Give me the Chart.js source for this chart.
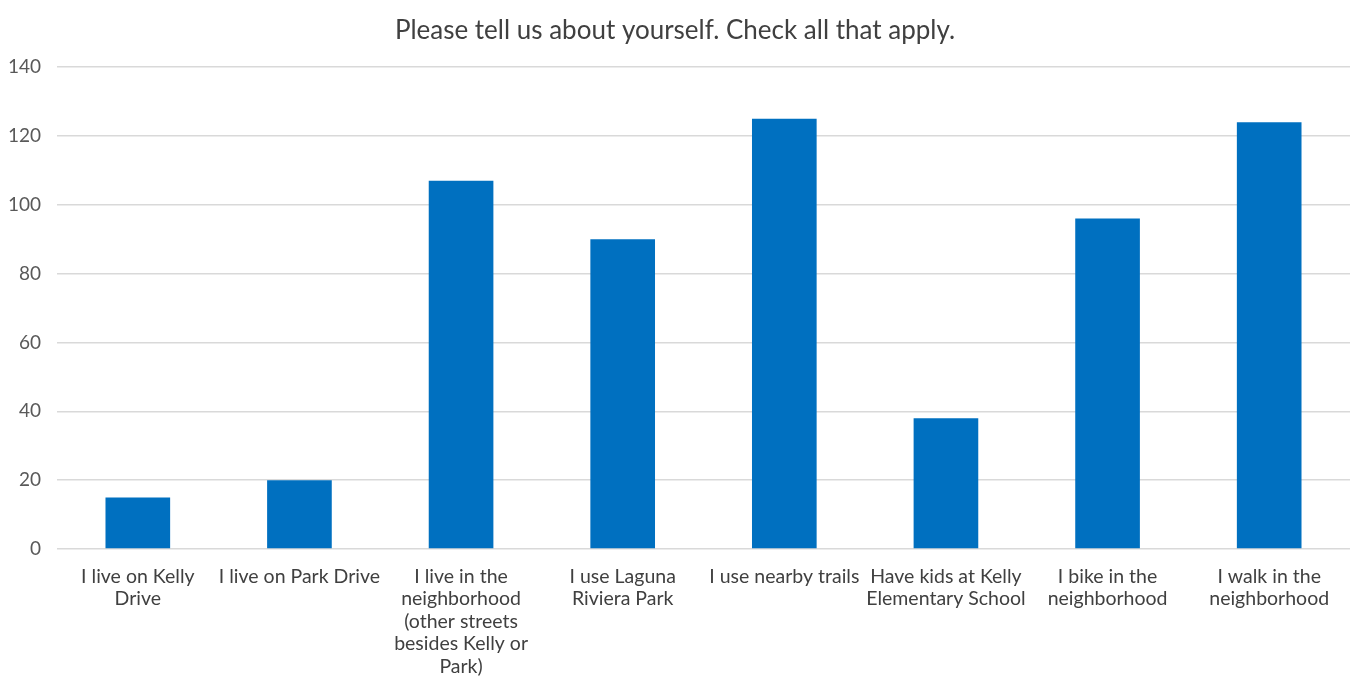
<!DOCTYPE html>
<html>
<head>
<meta charset="utf-8">
<script src="https://cdn.jsdelivr.net/npm/chart.js@4/dist/chart.umd.min.js"></script>
<style>
html, body { margin: 0; padding: 0; background: #fff; }
#wrap { width: 1359px; height: 691px; }
</style>
</head>
<body>
<div id="wrap"><canvas id="myChart"></canvas></div>
<script>
// categories (multi-line as in the original)
const categories = [
  ['I live on Kelly', 'Drive'],
  ['I live on Park Drive'],
  ['I live in the', 'neighborhood', '(other streets', 'besides Kelly or', 'Park)'],
  ['I use Laguna', 'Riviera Park'],
  ['I use nearby trails'],
  ['Have kids at Kelly', 'Elementary School'],
  ['I bike in the', 'neighborhood'],
  ['I walk in the', 'neighborhood']
];
const responses = [15, 20, 107, 90, 125, 38, 96, 124];
const yTicks = [0, 20, 40, 60, 80, 100, 120, 140];

const fontFamily = "Lato, 'Open Sans', sans-serif";

const config = {
  type: 'bar',
  data: {
    labels: categories,
    datasets: [{
      label: 'Responses',
      data: responses,
      backgroundColor: '#0070C0',
      borderWidth: 0,
      barPercentage: 0.4,
      categoryPercentage: 1.0
    }]
  },
  options: {
    responsive: true,
    maintainAspectRatio: false,
    animation: false,
    layout: { padding: { left: 0, right: 9, top: 0, bottom: 0 } },
    scales: {
      x: {
        grid: { display: false },
        border: { display: false },
        ticks: {
          autoSkip: false,
          maxRotation: 0,
          color: '#404040',
          padding: 8,
          font: { family: fontFamily, size: 19.5, lineHeight: 1.16 }
        },
        afterFit: function(scale) { scale.height = 142; }
      },
      y: {
        min: 0,
        max: 140,
        afterBuildTicks: function(scale) {
          scale.ticks = yTicks.map(v => ({ value: v }));
        },
        grid: { color: '#d9d9d9', lineWidth: 1.5, drawTicks: false },
        border: { display: false },
        ticks: {
          color: '#595959',
          padding: 16,
          font: { family: fontFamily, size: 19 }
        },
        afterFit: function(scale) { scale.width = 57; }
      }
    },
    plugins: {
      legend: { display: false },
      tooltip: { enabled: false },
      title: {
        display: true,
        text: 'Please tell us about yourself. Check all that apply.',
        color: '#404040',
        font: { family: fontFamily, size: 26, weight: 'normal', lineHeight: 1.2 },
        padding: { top: 15, bottom: 21 }
      }
    }
  }
};

new Chart(document.getElementById('myChart'), config);
</script>
</body>
</html>
